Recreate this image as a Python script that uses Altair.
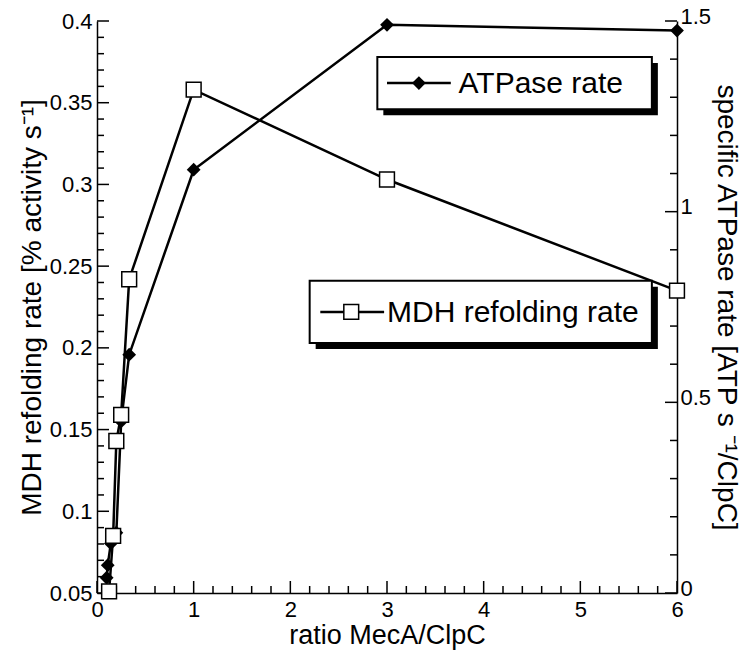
import altair as alt
import pandas as pd

# ---- data ----
mdh_ratio = [0.125, 0.167, 0.2, 0.25, 0.333, 1, 3, 6]
mdh_rate = [0.051, 0.085, 0.143, 0.159, 0.242, 0.358, 0.303, 0.235]
atp_ratio = [0.1, 0.111, 0.143, 0.2, 0.25, 0.333, 1, 3, 6]
atp_rate = [0.04, 0.073, 0.13, 0.158, 0.45, 0.625, 1.11, 1.49, 1.475]

x_major = [0, 1, 2, 3, 4, 5, 6]
x_minor = [round(i * 0.2, 2) for i in range(31) if i % 5 != 0]
yl_major = [0.05, 0.1, 0.15, 0.2, 0.25, 0.3, 0.35, 0.4]
yl_minor = [round(0.05 + i * 0.01, 2) for i in range(36) if i % 5 != 0]
yr_major = [0, 0.5, 1, 1.5]
yr_minor = [round(i * 0.1, 2) for i in range(16) if i % 5 != 0]

W, H = 580, 572
PAD_L, PAD_T = 97, 21
FONT = "Liberation Sans"
TICK_FS, TITLE_FS, XTITLE_FS, LEG_FS = 22, 28, 27, 30

mdh = pd.DataFrame({"x": mdh_ratio, "y": mdh_rate})
atp = pd.DataFrame({"x": atp_ratio, "y": atp_rate})
one = pd.DataFrame({"a": [0]})

xs = alt.Scale(domain=[0, 6], nice=False, zero=False)
yls = alt.Scale(domain=[0.05, 0.4], nice=False, zero=False)
yrs = alt.Scale(domain=[0, 1.5], nice=False, zero=False)


def px(x):
    return x / 6 * W


def py(v):
    return (0.4 - v) / 0.35 * H


common = dict(ticks=False, grid=False, domainColor="black", domainWidth=1.5,
              labelFont=FONT, labelFontSize=TICK_FS, labelColor="black",
              titleFont=FONT, titleFontWeight="normal",
              titleColor="black", labelFlush=False, format="~g")
x_axis = alt.Axis(orient="bottom", values=x_major, labelPadding=6,
                  title="ratio MecA/ClpC", titleFontSize=XTITLE_FS, titlePadding=2, **common)
yl_axis = alt.Axis(orient="left", values=yl_major, labelPadding=5, titleFontSize=TITLE_FS,
                   title="MDH refolding rate [% activity s⁻¹]", titlePadding=3, **common)
yr_axis = alt.Axis(orient="right", values=yr_major, labelPadding=3, titleFontSize=TITLE_FS,
                   labelOffset=-5,
                   title="specific ATPase rate [ATP s ⁻¹/ClpC]", titlePadding=1, **common)

# ---- left group (MDH) ----
mdh_line = alt.Chart(mdh).mark_line(color="black", strokeWidth=2.5).encode(
    x=alt.X("x:Q", scale=xs, axis=x_axis),
    y=alt.Y("y:Q", scale=yls, axis=yl_axis),
)
mdh_pts = alt.Chart(mdh).mark_point(shape="square", size=220, filled=True, fill="white",
                                     stroke="black", strokeWidth=1.5, opacity=1).encode(
    x=alt.X("x:Q", scale=xs), y=alt.Y("y:Q", scale=yls))


def ticks_y(vals, scale, x0, x1):
    return alt.Chart(pd.DataFrame({"v": vals})).mark_rule(color="black", strokeWidth=1.5).encode(
        y=alt.Y("v:Q", scale=scale), x=alt.value(x0), x2=alt.value(x1))


def ticks_x(vals, length):
    return alt.Chart(pd.DataFrame({"v": vals})).mark_rule(color="black", strokeWidth=1.5).encode(
        x=alt.X("v:Q", scale=xs), y=alt.value(H), y2=alt.value(H - length))


left_ticks = ticks_y(yl_major, yls, 0, 12) + ticks_y(yl_minor, yls, 0, 7)
bottom_ticks = ticks_x(x_major, 12) + ticks_x(x_minor, 7)


# legends (decorations)
def box(x1, y1, x2, y2):
    shadow = alt.Chart(one).mark_rect(color="black").encode(
        x=alt.value(x1 + 6), x2=alt.value(x2 + 6), y=alt.value(y1 + 6), y2=alt.value(y2 + 6))
    fr = alt.Chart(one).mark_rect(fill="white", stroke="black", strokeWidth=2).encode(
        x=alt.value(x1), x2=alt.value(x2), y=alt.value(y1), y2=alt.value(y2))
    return shadow + fr


l1y = (py(0.378) + py(0.346)) / 2
leg1 = box(px(2.9), py(0.378), px(5.74), py(0.346))
leg1_line = alt.Chart(one).mark_rule(color="black", strokeWidth=2.5).encode(
    x=alt.value(px(3.0)), x2=alt.value(px(3.66)), y=alt.value(l1y))
leg1_pt = alt.Chart(one).mark_point(shape="diamond", size=190, filled=True, color="black",
                                    opacity=1).encode(x=alt.value(px(3.33)), y=alt.value(l1y))
leg1_txt = alt.Chart(one).mark_text(text="ATPase rate", align="left", baseline="middle",
                                    font=FONT, fontSize=LEG_FS, color="black").encode(
    x=alt.value(px(3.74)), y=alt.value(l1y + 1))

l2y = (py(0.241) + py(0.203)) / 2
leg2 = box(px(2.2), py(0.241), px(5.74), py(0.203))
leg2_line = alt.Chart(one).mark_rule(color="black", strokeWidth=2.5).encode(
    x=alt.value(px(2.31)), x2=alt.value(px(2.97)), y=alt.value(l2y))
leg2_pt = alt.Chart(one).mark_point(shape="square", size=220, filled=True, fill="white",
                                    stroke="black", strokeWidth=1.5, opacity=1).encode(
    x=alt.value(px(2.63)), y=alt.value(l2y))
leg2_txt = alt.Chart(one).mark_text(text="MDH refolding rate", align="left", baseline="middle",
                                    font=FONT, fontSize=LEG_FS, color="black").encode(
    x=alt.value(px(3.0)), y=alt.value(l2y + 1))

left_group = alt.layer(mdh_line, left_ticks, bottom_ticks, leg1, leg1_line, leg1_pt, leg1_txt,
                       leg2, leg2_line, leg2_txt, mdh_pts, leg2_pt)

# ---- right group (ATPase) ----
atp_line = alt.Chart(atp).mark_line(color="black", strokeWidth=2.5).encode(
    x=alt.X("x:Q", scale=xs),
    y=alt.Y("y:Q", scale=yrs, axis=yr_axis),
)
atp_pts = alt.Chart(atp).mark_point(shape="diamond", size=190, filled=True, color="black",
                                    opacity=1).encode(
    x=alt.X("x:Q", scale=xs), y=alt.Y("y:Q", scale=yrs))
right_ticks = ticks_y(yr_major, yrs, W, W - 12) + ticks_y(yr_minor, yrs, W, W - 7)
right_group = alt.layer(atp_line, atp_pts, right_ticks)

chart = alt.layer(right_group, left_group).resolve_scale(y="independent").properties(
    width=W, height=H,
    autosize=alt.AutoSizeParams(type="none"),
    padding={"left": PAD_L, "top": PAD_T, "right": 745 - PAD_L - W, "bottom": 661 - PAD_T - H},
    background="white",
).configure_view(stroke=None)

chart.save("out.html", embed_options={"renderer": "svg", "actions": False})
